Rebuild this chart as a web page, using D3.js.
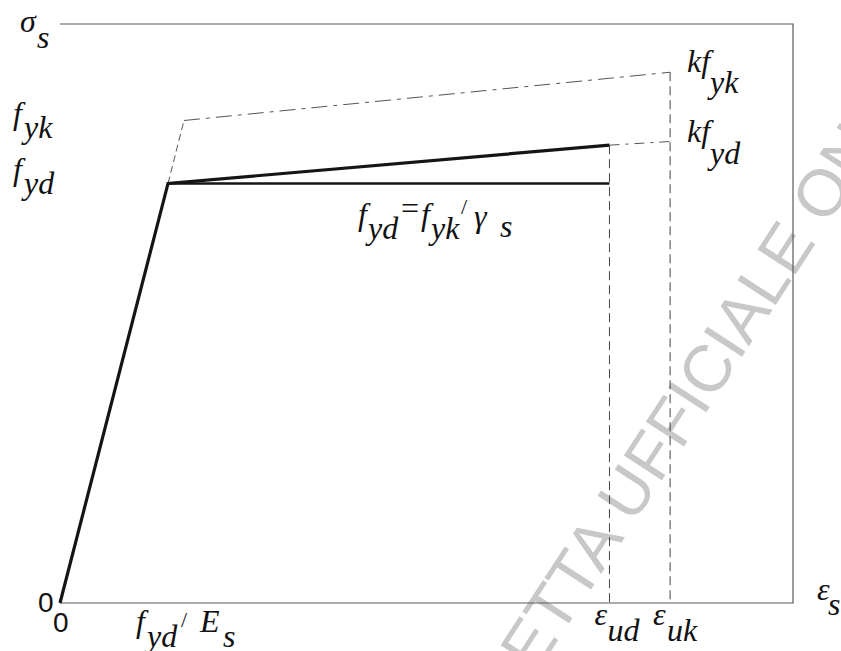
<!DOCTYPE html>
<html>
<head>
<meta charset="utf-8">
<script src="https://cdn.jsdelivr.net/npm/d3@7/dist/d3.min.js"></script>
<style>
  html, body { margin: 0; padding: 0; background: #ffffff; }
  svg { display: block; }
</style>
</head>
<body>
<svg id="chart" width="841" height="651"></svg>
<script>
// ---- data (strain in per mille, stress in MPa) ----
const strainKeys   = ["origin", "eps_yd", "eps_yk", "eps_ud", "eps_uk", "axisMax"];
const strainValues = [0, 1.96, 2.25, 9.97, 11.07, 13.3];
const stressKeys   = ["zero", "fyd", "fyk", "kfyd_ud", "kfyd_uk", "kfyk", "axisMax"];
const stressValues = [0, 391.3, 450, 427, 430.4, 495, 540];

// design law (bilinear with hardening) — thick
const designStrain = [0, 1.96, 9.97];
const designStress = [0, 391.3, 427];
// design law (elastic–perfectly plastic plateau) — thick
const plateauStrain = [1.96, 9.97];
const plateauStress = [391.3, 391.3];
// elastic branch extension up to characteristic yield — thin dashed
const elasticExtStrain = [1.96, 2.25];
const elasticExtStress = [391.3, 450];
// characteristic law — thin dash-dot
const charStrain = [2.25, 11.07];
const charStress = [450, 495];
// extension of design hardening branch — thin dash-dot
const designExtStrain = [9.97, 11.07];
const designExtStress = [427, 430.4];
// ultimate strain verticals
const ultStrain = [9.97, 11.07];
const ultTopStress = [427, 495];

const S = k => strainValues[strainKeys.indexOf(k)];
const F = k => stressValues[stressKeys.indexOf(k)];

const SERIF = "Liberation Serif";
const SANS = "Liberation Sans";

const svg = d3.select("#chart");
const x = d3.scaleLinear().domain([0, S("axisMax")]).range([60, 793]);
const y = d3.scaleLinear().domain([0, F("axisMax")]).range([603, 24]);

const pts = (xs, ys) => xs.map((v, i) => [x(v), y(ys[i])]);
const line = d3.line();

// ---- watermark ----
svg.append("text")
  .attr("transform", "translate(440,822) rotate(-57)")
  .attr("font-family", SANS)
  .attr("font-size", 66)
  .attr("fill", "#c8c8c8")
  .text("GAZZETTA UFFICIALE ON-LINE");

// ---- frame (top, right, bottom) ----
const [x0, x1] = x.range();
const [yb, yt] = y.range();
svg.append("path")
  .attr("d", line([[x0, yt], [x1, yt], [x1, yb], [x0, yb]]))
  .attr("fill", "none").attr("stroke", "#5a5a5a").attr("stroke-width", 1.2);

// ---- vertical dashed ultimate strains ----
ultStrain.forEach((e, i) => {
  svg.append("path")
    .attr("d", line([[x(e), y(ultTopStress[i])], [x(e), y(0)]]))
    .attr("fill", "none").attr("stroke", "#444").attr("stroke-width", 1)
    .attr("stroke-dasharray", "9,5");
});

// ---- thin dashed lines ----
svg.append("path").attr("d", line(pts(elasticExtStrain, elasticExtStress)))
  .attr("fill", "none").attr("stroke", "#555").attr("stroke-width", 1)
  .attr("stroke-dasharray", "7,4");
svg.append("path").attr("d", line(pts(charStrain, charStress)))
  .attr("fill", "none").attr("stroke", "#555").attr("stroke-width", 1)
  .attr("stroke-dasharray", "16,6,4,6");
svg.append("path").attr("d", line(pts(designExtStrain, designExtStress)))
  .attr("fill", "none").attr("stroke", "#555").attr("stroke-width", 1)
  .attr("stroke-dasharray", "10,6,3,6");

// ---- thick design curves ----
svg.append("path").attr("d", line(pts(plateauStrain, plateauStress)))
  .attr("fill", "none").attr("stroke", "#151515").attr("stroke-width", 2.6);
svg.append("path").attr("d", line(pts(designStrain, designStress)))
  .attr("fill", "none").attr("stroke", "#151515").attr("stroke-width", 3.2)
  .attr("stroke-linejoin", "miter");

// ---- labels ----
function label(ax, ay, parts) {
  const t = svg.append("text")
    .attr("font-family", SERIF)
    .attr("font-style", "italic")
    .attr("font-size", 32)
    .attr("fill", "#111");
  parts.forEach(p => {
    const ts = t.append("tspan")
      .attr("font-family", SERIF)
      .attr("font-style", p[3] ? "normal" : "italic")
      .attr("x", ax + p[1]).attr("y", ay + p[2]).text(p[0]);
    if (p[4]) ts.attr("font-size", p[4]);
  });
  return t;
}

// axis names
label(x0, yt, [["σ", -40, 8], ["s", -23, 24]]);
label(x1, yb, [["ε", 24, -3], ["s", 35, 12]]);

// stress levels on the left
label(0, y(F("fyk")), [["f", 13, 3], ["yk", 24, 17]]);
label(0, y(F("fyd")), [["f", 13, -3], ["yd", 24, 11]]);

// right side
label(x(S("eps_uk")), y(F("kfyk")), [["kf", 17, 0], ["yk", 40, 21]]);
label(x(S("eps_uk")), y(F("kfyd_uk")), [["kf", 17, 0], ["yd", 40, 22]]);

// strain levels on the bottom
label(x(S("eps_yd")), yb, [["f", -32, 29], ["yd", -21, 44], ["/", 13, 24, 1, 22], ["E", 32, 29], ["s", 55, 44]]);
label(x(S("eps_ud")), yb, [["ε", -15, 22], ["ud", -2, 38]]);
label(x(S("eps_uk")), yb, [["ε", -17, 22], ["uk", -3, 38]]);

// plateau formula
label(x(S("eps_yd")), y(F("fyd")), [["f", 190, 42], ["yd", 200, 56], ["=", 233, 36, 1],
  ["f", 253, 42], ["yk", 263, 56], ["/", 293, 31, 1, 22], ["γ", 306, 44], ["s", 332, 54]]);

// zeros
svg.append("text").attr("font-family", SANS).attr("font-size", 28).attr("fill", "#111")
  .attr("x", x0 - 22).attr("y", yb + 9).text("0");
svg.append("text").attr("font-family", SANS).attr("font-size", 28).attr("fill", "#111")
  .attr("x", x0 - 7).attr("y", yb + 29).text("0");
</script>
</body>
</html>
